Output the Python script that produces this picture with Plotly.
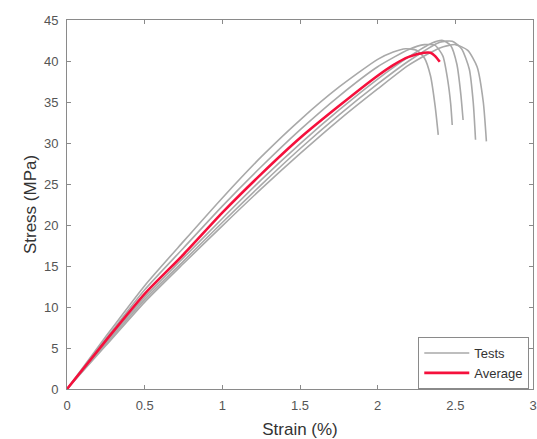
import plotly.graph_objects as go

# ---- data ----
test_a_strain = [0, 0.25, 0.5, 0.75, 1.0, 1.25, 1.5, 1.75, 2.0, 2.1, 2.18, 2.25, 2.3, 2.34, 2.37, 2.39]
test_a_stress = [0, 6.4, 12.6, 18.0, 23.3, 28.3, 32.8, 36.8, 40.2, 41.1, 41.5, 41.3, 40.4, 38.2, 34.5, 31.0]

test_b_strain = [0, 0.25, 0.5, 0.75, 1.0, 1.25, 1.5, 1.75, 2.0, 2.2, 2.3, 2.37, 2.42, 2.45, 2.47, 2.48]
test_b_stress = [0, 6.1, 12.1, 17.2, 22.3, 27.1, 31.6, 35.7, 39.3, 41.4, 42.0, 41.9, 40.6, 37.8, 34.8, 32.2]

test_c_strain = [0, 0.25, 0.5, 0.75, 1.0, 1.25, 1.5, 1.75, 2.0, 2.2, 2.35, 2.42, 2.47, 2.51, 2.535, 2.55]
test_c_stress = [0, 5.7, 11.2, 16.0, 20.8, 25.5, 29.9, 34.0, 37.8, 40.5, 42.2, 42.5, 41.9, 39.6, 36.0, 32.8]

test_d_strain = [0, 0.25, 0.5, 0.75, 1.0, 1.25, 1.5, 1.75, 2.0, 2.2, 2.4, 2.48, 2.54, 2.59, 2.615, 2.63]
test_d_stress = [0, 5.5, 10.9, 15.6, 20.3, 24.9, 29.3, 33.4, 37.2, 40.0, 42.3, 42.4, 41.5, 39.0, 35.0, 30.4]

test_e_strain = [0, 0.25, 0.5, 0.75, 1.0, 1.25, 1.5, 1.75, 2.0, 2.2, 2.4, 2.5, 2.58, 2.64, 2.68, 2.70]
test_e_stress = [0, 5.3, 10.6, 15.3, 19.9, 24.4, 28.7, 32.8, 36.6, 39.5, 41.6, 42.0, 41.3, 39.3, 35.0, 30.2]

avg_strain = [0, 0.25, 0.5, 0.75, 1.0, 1.25, 1.5, 1.75, 2.0, 2.1, 2.2, 2.3, 2.34, 2.37, 2.40]
avg_stress = [0, 5.9, 11.6, 16.4, 21.5, 26.2, 30.6, 34.5, 38.2, 39.5, 40.5, 41.0, 41.0, 40.6, 39.9]

x_ticks = [0, 0.5, 1, 1.5, 2, 2.5, 3]
y_ticks = [0, 5, 10, 15, 20, 25, 30, 35, 40, 45]

tests = [
    (test_a_strain, test_a_stress),
    (test_b_strain, test_b_stress),
    (test_c_strain, test_c_stress),
    (test_d_strain, test_d_stress),
    (test_e_strain, test_e_stress),
]

fig = go.Figure()
for i, (xs, ys) in enumerate(tests):
    fig.add_trace(go.Scatter(
        x=xs, y=ys, mode="lines", name="Tests",
        line=dict(color="#a9a9a9", width=1.6, shape="spline", smoothing=0.6),
        showlegend=(i == 0), legendgroup="tests",
    ))

fig.add_trace(go.Scatter(
    x=avg_strain, y=avg_stress, mode="lines", name="Average",
    line=dict(color="#f5103c", width=2.6, shape="spline", smoothing=0.6),
))

axis_common = dict(
    showgrid=False, zeroline=False, showline=True, linecolor="#8a8a8a", linewidth=1,
    mirror="ticks", ticks="inside", ticklen=4, tickcolor="#8a8a8a",
    ticklabeloverflow="allow",
    tickfont=dict(family="Liberation Sans, Arial, sans-serif", size=13, color="#555555"),
)

fig.update_layout(
    width=537, height=439,
    margin=dict(l=67, r=0, t=20, b=50),
    paper_bgcolor="white", plot_bgcolor="white",
    xaxis=dict(range=[0, 3], tickvals=x_ticks, ticktext=[str(v) for v in x_ticks],
               ticklabelstandoff=4,
               title=dict(text="Strain (%)", standoff=11,
                          font=dict(family="Liberation Sans, Arial, sans-serif", size=17, color="#333333")),
               **axis_common),
    yaxis=dict(range=[0, 45], tickvals=y_ticks, ticklabelstandoff=5,
               title=dict(text="Stress (MPa)", standoff=2,
                          font=dict(family="Liberation Sans, Arial, sans-serif", size=17, color="#333333")),
               **axis_common),
    legend=dict(x=0.992, y=0.0, xanchor="right", yanchor="bottom",
                bordercolor="#8a8a8a", borderwidth=1, bgcolor="white",
                font=dict(family="Liberation Sans, Arial, sans-serif", size=13, color="#333333"),
                tracegroupgap=0, itemwidth=45),
    showlegend=True,
)

fig.write_html(
    "out.html",
    config={"displayModeBar": False},
    post_script="document.body.style.margin='0';document.body.style.overflow='hidden';",
)
